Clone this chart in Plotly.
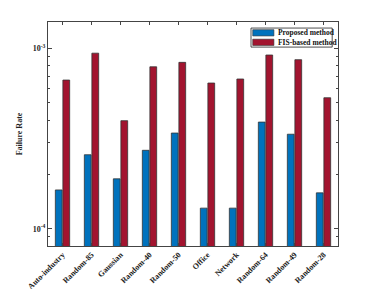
import plotly.graph_objects as go

categories = ["Auto-industry", "Random-85", "Gaussian", "Random-40", "Random-50",
              "Office", "Network", "Random-64", "Random-49", "Random-28"]
proposed = [1.64e-4, 2.57e-4, 1.89e-4, 2.72e-4, 3.39e-4, 1.30e-4, 1.30e-4, 3.90e-4, 3.34e-4, 1.58e-4]
fis_based = [6.67e-4, 9.4e-4, 3.97e-4, 7.9e-4, 8.36e-4, 6.42e-4, 6.76e-4, 9.18e-4, 8.65e-4, 5.32e-4]
series_names = ["Proposed method", "FIS-based method"]
series_colors = ["#0072BD", "#A2142F"]
y_tickvals = [1e-4, 1e-3]
y_ticktext = ["10<sup>-4</sup>", "10<sup>-3</sup>"]
y_minor = [9e-5] + [k * 1e-4 for k in range(2, 10)]

FONT = "Liberation Serif"
EDGE = "#333333"

fig = go.Figure()
for name, vals, col in zip(series_names, [proposed, fis_based], series_colors):
    fig.add_trace(go.Bar(name=name, x=categories, y=vals,
                         marker=dict(color=col, line=dict(color=EDGE, width=0.8))))

# custom compact legend (paper coordinates of the plotting area)
lx0, lx1, ly0, ly1 = 0.70, 0.98, 0.888, 0.973
fig.add_shape(type="rect", xref="paper", yref="paper", x0=lx0, x1=lx1, y0=ly0, y1=ly1,
              line=dict(color="#222222", width=0.8), fillcolor="white", layer="above")
row_h = (ly1 - ly0) / 2
for i, (name, col) in enumerate(zip(series_names, series_colors)):
    yc = ly1 - row_h * (i + 0.5)
    fig.add_shape(type="rect", xref="paper", yref="paper",
                  x0=lx0 + 0.006, x1=lx0 + 0.079, y0=yc - 0.014, y1=yc + 0.014,
                  line=dict(color=EDGE, width=0.6), fillcolor=col, layer="above")
    fig.add_annotation(xref="paper", yref="paper", x=lx0 + 0.086, y=yc,
                       xanchor="left", yanchor="middle", showarrow=False,
                       text="<b>" + name + "</b>",
                       font=dict(family=FONT, size=7.5, color="#111111"))

fig.update_layout(
    width=366, height=281,
    margin=dict(l=40, r=36, t=14, b=43),
    paper_bgcolor="white", plot_bgcolor="white",
    barmode="group", bargap=0.48, bargroupgap=0.1,
    font=dict(family=FONT, size=8, color="#222222"),
    showlegend=False,
)
fig.update_xaxes(
    type="category", range=[-0.5, 9.5], automargin=False,
    tickangle=-45, ticks="inside", ticklen=3, tickcolor="#444444",
    showline=True, linecolor="#444444", linewidth=1, mirror="ticks",
    tickfont=dict(family=FONT, size=8, color="#222222"),
    tickprefix="<b>", ticksuffix="</b>",
    showgrid=False,
)
fig.update_yaxes(
    type="log", range=[-4.096, -2.854], automargin=False,
    tickvals=y_tickvals, ticktext=["<b>" + t + "</b>" for t in y_ticktext],
    ticks="inside", ticklen=4, tickcolor="#444444",
    minor=dict(tickvals=y_minor, ticks="inside", ticklen=2, tickcolor="#444444", showgrid=False),
    showline=True, linecolor="#444444", linewidth=1, mirror="ticks",
    tickfont=dict(family=FONT, size=8, color="#222222"),
    showgrid=False, zeroline=False,
    title=dict(text="<b>Failure Rate</b>", font=dict(family=FONT, size=8, color="#222222"), standoff=8),
)

fig.write_html("out.html")
